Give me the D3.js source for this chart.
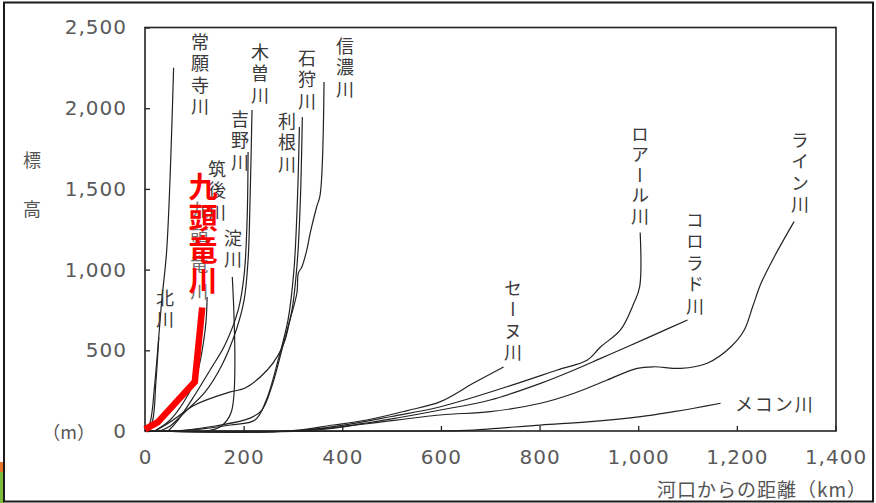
<!DOCTYPE html>
<html>
<head>
<meta charset="utf-8">
<script src="https://cdn.jsdelivr.net/npm/d3@7"></script>
<style>
  html, body { margin: 0; padding: 0; background: #fff; }
  svg { display: block; }
</style>
</head>
<body>
<div id="app"></div>
<script>
// river profiles: [distance from mouth (km), elevation (m)]
const yTicks = [0, 500, 1000, 1500, 2000, 2500];
const xTicks = [0, 200, 400, 600, 800, 1000, 1200, 1400];

const joganji  = [[0,0],[10,50],[20,300],[34,810],[44,1120],[58,2250]];
const kitagawa = [[4,0],[15,60],[22,300],[28,580]];
const chikugo  = [[20,0],[51,68],[81,192],[103,328],[122,626],[126,830]];
const yodo     = [[122,0],[152,25],[175,118],[177,954]];
const yoshino  = [[47,0],[67,68],[101,223],[132,378],[162,533],[189,750],[201,967],[207,1307],[209,1729]];
const kiso     = [[30,0],[51,31],[81,118],[122,242],[156,409],[185,626],[201,812],[209,1059],[213,1431],[217,1989]];
const ishikari = [[71,0],[142,31],[213,80],[237,130],[258,285],[280,533],[298,750],[309,1059],[315,1431],[319,1946]];
const tone     = [[51,0],[112,12],[173,37],[223,68],[246,192],[270,440],[290,688],[302,998],[309,1431],[313,1884]];
const shinano  = [[20,0],[51,56],[101,161],[173,242],[203,266],[248,378],[270,470],[284,564],[294,688],[308,855],[311,979],[318,1016],[328,1121],[335,1227],[348,1388],[355,1462],[363,2162]];
const kuzuryu  = [[0,10],[26,55],[101,305],[116,765]];

const seine    = [[0,0],[290,0],[382,37],[450,68],[530,125],[599,182],[666,297],[727,397]];
const loire    = [[0,0],[300,0],[400,35],[500,90],[599,150],[734,274],[836,378],[897,440],[924,522],[964,626],[991,791],[1003,894],[1004,1230]];
const colorado = [[0,0],[300,0],[400,28],[500,75],[599,130],[700,192],[802,295],[870,378],[924,450],[978,522],[1039,605],[1100,688]];
const rhine    = [[0,0],[320,0],[450,45],[599,99],[700,120],[802,172],[870,234],[937,316],[998,388],[1032,398],[1086,388],[1140,420],[1188,522],[1215,626],[1232,770],[1249,915],[1276,1080],[1316,1297]];
const mekong   = [[0,0],[600,0],[666,6],[802,37],[903,58],[1005,89],[1072,120],[1113,141],[1167,172]];

const blackRivers = [joganji, kitagawa, chikugo, yodo, yoshino, kiso, ishikari, tone, shinano,
                     seine, loire, colorado, rhine, mekong];

// vertical labels, anchored (km, m) at the centre of the first character
const labelNames = ['常願寺川','北川','筑後川','淀川','吉野川','木曽川','利根川','石狩川','信濃川',
                    'セーヌ川','ロアール川','コロラド川','ライン川'];
const labelAt = [[111.5,2410],[40.6,824],[146,1623],[178.4,1196],[192.6,1933],[233.2,2348],[288,1921],[328.5,2311],[405.5,2385],
                 [746,886],[1003.6,1840],[1115,1307],[1328,1803]];
const mekongLabel = 'メコン川';
const mekongAt = [1196,173];
// original grey label, mostly covered by the red one
const greyLabel = '九頭竜川';
const greyAt = [110,1370];
const redLabel = '九頭竜川';
const redAt = [117.6,1512];

(() => {
  const W = 876, H = 503;
  const JP = '"Noto Sans CJK JP", "Noto Sans", sans-serif';

  const x = d3.scaleLinear().domain([0, 1400]).range([145, 835.5]);
  const y = d3.scaleLinear().domain([0, 2500]).range([431, 27.5]);

  const svg = d3.select('#app').append('svg')
    .attr('width', W).attr('height', H)
    .attr('viewBox', [0, 0, W, H]);

  // the bits of colour peeking in at the bottom left
  svg.append('rect').attr('x', 0).attr('y', 462).attr('width', 4).attr('height', 10).attr('fill', '#e8742a');
  svg.append('rect').attr('x', 0).attr('y', 472).attr('width', 4).attr('height', 31).attr('fill', '#7dbb3c');

  // outer frame
  svg.append('rect')
    .attr('x', 4).attr('y', 2.5).attr('width', 869).attr('height', 499)
    .attr('fill', 'none').attr('stroke', '#1a1a1a').attr('stroke-width', 2);

  // axes, ticks pointing inward
  const yAxis = svg.append('g')
    .attr('transform', `translate(${x(0)},0)`)
    .call(d3.axisLeft(y).tickValues(yTicks).tickFormat(d3.format(',')).tickSizeInner(-5).tickSizeOuter(0).tickPadding(18));
  const xAxis = svg.append('g')
    .attr('transform', `translate(0,${y(0)})`)
    .call(d3.axisBottom(x).tickValues(xTicks).tickFormat(d3.format(',')).tickSizeInner(-5).tickSizeOuter(0).tickPadding(19));

  [yAxis, xAxis].forEach(g => {
    g.select('.domain').remove();
    g.attr('font-family', '"DejaVu Sans", sans-serif').attr('font-size', 20);
    g.selectAll('line').attr('stroke', '#222').attr('stroke-width', 1.3);
    g.selectAll('text').attr('fill', '#5a5a5a').style('letter-spacing', '1px');
  });

  // plot frame
  svg.append('rect')
    .attr('x', x(0)).attr('y', y(2500))
    .attr('width', x(1400) - x(0) + 0.5).attr('height', y(0) - y(2500))
    .attr('fill', 'none').attr('stroke', '#222').attr('stroke-width', 1.6);

  // river lines
  const line = d3.line()
    .x(d => x(d[0])).y(d => y(d[1]))
    .curve(d3.curveCatmullRom.alpha(0.5));

  svg.append('g')
    .selectAll('path')
    .data(blackRivers)
    .join('path')
    .attr('d', line)
    .attr('fill', 'none')
    .attr('stroke', '#222')
    .attr('stroke-width', 1.2)
    .attr('stroke-linejoin', 'round');

  // vertical labels: one text each, written top to bottom
  const vLabel = (name, at, step, opts) => svg.append('text')
    .attr('x', x(at[0]))
    .attr('y', y(at[1]) - opts.size / 2)
    .attr('font-family', JP)
    .attr('font-size', opts.size)
    .attr('font-weight', opts.weight || 400)
    .attr('fill', opts.fill)
    .style('writing-mode', 'vertical-rl')
    .style('letter-spacing', `${step - opts.size}px`)
    .text(name);

  labelNames.forEach((name, i) => {
    const step = name === 'ロアール川' ? 20.5 : 21.5;
    vLabel(name, labelAt[i], step, { size: 18, fill: '#3a3a3a' });
  });
  vLabel(greyLabel, greyAt, 27, { size: 18, fill: '#6a6a6a' });

  svg.append('text')
    .attr('x', x(mekongAt[0])).attr('y', y(mekongAt[1]))
    .attr('dominant-baseline', 'central')
    .attr('font-family', JP).attr('font-size', 18).attr('fill', '#3a3a3a')
    .style('letter-spacing', '2px')
    .text(mekongLabel);

  // highlighted river
  svg.append('path')
    .datum(kuzuryu)
    .attr('d', d3.line().x(d => x(d[0])).y(d => y(d[1])))
    .attr('fill', 'none')
    .attr('stroke', '#ff0000')
    .attr('stroke-width', 6.5)
    .attr('stroke-linejoin', 'miter');

  vLabel(redLabel, redAt, 31.5, { size: 29, weight: 700, fill: '#ff0000' });

  // axis titles
  const axisText = (tx, ty, str, anchor, size) => svg.append('text')
    .attr('x', tx).attr('y', ty)
    .attr('text-anchor', anchor)
    .attr('dominant-baseline', 'central')
    .attr('font-family', JP).attr('font-size', size).attr('fill', '#555')
    .text(str);

  axisText(95, y(0), '（m）', 'end', 18);
  axisText(32, 159, '標', 'middle', 18);
  axisText(32, 208, '高', 'middle', 18);
  axisText(867, 488, '河口からの距離（km）', 'end', 19).style('letter-spacing', '1px');
})();
</script>
</body>
</html>
